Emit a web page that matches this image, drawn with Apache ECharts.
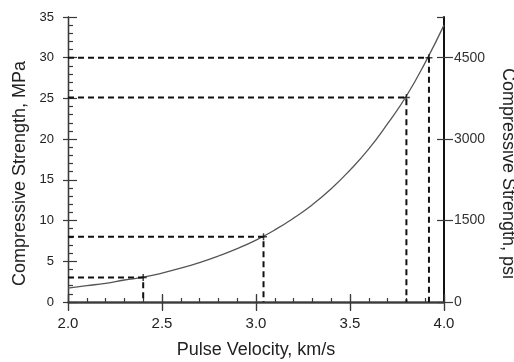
<!DOCTYPE html>
<html>
<head>
<meta charset="utf-8">
<script src="https://cdn.jsdelivr.net/npm/echarts@6/dist/echarts.min.js"></script>
<style>
  html, body { margin: 0; padding: 0; background: #fff; }
  #chart { width: 514px; height: 362px; }
</style>
</head>
<body>
<div id="chart"></div>
<script>
// curve
const velocity = [2.0, 2.1, 2.2, 2.3, 2.4, 2.5, 2.6, 2.7, 2.8, 2.9, 3.0, 3.1, 3.2, 3.3, 3.4, 3.5, 3.6, 3.7, 3.8, 3.9, 4.0]
const strengthMPa = [1.7, 2.0, 2.3, 2.7, 3.05, 3.55, 4.15, 4.85, 5.65, 6.55, 7.6, 8.85, 10.3, 11.95, 13.9, 16.2, 18.8, 21.9, 25.3, 29.4, 34.0]

// dashed read-off points
const pointVelocity = [2.4, 3.04, 3.8, 3.92]
const pointStrength = [3.0, 8.0, 25.1, 30.0]

const xTitle = 'Pulse Velocity, km/s'
const yTitleLeft = 'Compressive Strength, MPa'
const yTitleRight = 'Compressive Strength, psi'

const font = "'Liberation Sans', Arial, sans-serif"
const axisColor = '#3a3a3a'
const textColor = '#222'

const chart = echarts.init(document.getElementById('chart'), null, { renderer: 'canvas' })

function xAxisDef(position, opts) {
  return Object.assign({
    type: 'value', position: position, min: 2, max: 4, interval: 0.5,
    axisLine: { lineStyle: { color: axisColor, width: 1.3 } },
    axisTick: { show: false },
    axisLabel: { show: false },
    splitLine: { show: false }
  }, opts)
}

function yAxisDef(position, opts) {
  return Object.assign({
    type: 'value', position: position, min: 0, max: 35, interval: 5,
    axisLine: { lineStyle: { color: axisColor, width: 1.3 } },
    axisTick: { show: false },
    axisLabel: { show: false },
    splitLine: { show: false }
  }, opts)
}

const tickStyle = { color: axisColor, width: 1.2 }

const xAxes = [
  // bottom, labels + outward ticks
  xAxisDef('bottom', {
    axisTick: { show: true, inside: false, length: 9, lineStyle: tickStyle },
    axisLabel: {
      show: true, margin: 14, color: textColor, fontSize: 15, fontFamily: font,
      formatter: v => v.toFixed(1)
    },
    name: xTitle, nameLocation: 'middle', nameGap: 39,
    nameTextStyle: { color: textColor, fontSize: 18, fontFamily: font }
  }),
  // bottom, inward ticks + minor ticks
  xAxisDef('bottom', {
    axisTick: { show: true, inside: true, length: 7, lineStyle: tickStyle },
    minorTick: { show: true, splitNumber: 5, length: 4, lineStyle: tickStyle }
  }),
  // top, outward ticks
  xAxisDef('top', {
    axisTick: { show: true, inside: false, length: 8, lineStyle: tickStyle }
  }),
  // top, inward ticks
  xAxisDef('top', {
    axisTick: { show: true, inside: true, length: 8, lineStyle: tickStyle }
  })
]

const yAxes = [
  // left, labels + outward ticks
  yAxisDef('left', {
    axisTick: { show: true, inside: false, length: 5, lineStyle: tickStyle },
    axisLabel: { show: true, margin: 14, color: textColor, fontSize: 13, fontFamily: font },
    name: yTitleLeft, nameLocation: 'middle', nameGap: 30,
    nameTextStyle: { color: textColor, fontSize: 18, fontFamily: font, padding: [0, 28, 0, 0] }
  }),
  // left, inward ticks + minor ticks
  yAxisDef('left', {
    axisTick: { show: true, inside: true, length: 9, lineStyle: tickStyle },
    minorTick: { show: true, splitNumber: 5, length: 5, lineStyle: tickStyle }
  }),
  // right, psi scale
  {
    type: 'value', position: 'right', min: 0, max: 5250, interval: 1500,
    axisLine: { lineStyle: { color: '#111', width: 2 } },
    axisTick: { show: true, inside: false, length: 9, lineStyle: tickStyle },
    axisLabel: {
      show: true, margin: 10, color: '#333', fontSize: 14, fontFamily: font,
      showMaxLabel: false,
      formatter: v => (v === 5250 ? '' : String(v))
    },
    splitLine: { show: false },
    name: yTitleRight, nameLocation: 'middle', nameGap: 55, nameRotate: -90,
    nameTextStyle: { color: textColor, fontSize: 18, fontFamily: font, padding: [0, 0, 0, 28] }
  },
  // right, inward ticks
  {
    type: 'value', position: 'right', min: 0, max: 5250, interval: 1500,
    axisLine: { show: false },
    axisTick: { show: true, inside: true, length: 7, lineStyle: tickStyle },
    axisLabel: { show: false },
    splitLine: { show: false }
  }
]

const crossSymbol = 'path://M0,5L10,5M5,0L5,10'

const dashedSeries = pointVelocity.map((v, i) => ({
  type: 'line',
  xAxisIndex: 0,
  yAxisIndex: 0,
  data: [[2.0, pointStrength[i]], [v, pointStrength[i]], [v, 0]],
  symbol: 'none',
  lineStyle: { color: '#111', width: 2, type: [6, 4] },
  silent: true,
  z: 3
}))

const pointSeries = {
  type: 'scatter',
  xAxisIndex: 0,
  yAxisIndex: 0,
  data: pointVelocity.map((v, i) => [v, pointStrength[i]]),
  symbol: crossSymbol,
  symbolSize: 7,
  itemStyle: { color: 'none', borderColor: '#111', borderWidth: 1.5 },
  silent: true,
  z: 4
}

const option = {
  animation: false,
  backgroundColor: '#fff',
  grid: { left: 68, right: 70, top: 17, bottom: 60, containLabel: false, outerBoundsMode: 'none' },
  xAxis: xAxes,
  yAxis: yAxes,
  series: [
    {
      type: 'line',
      xAxisIndex: 0,
      yAxisIndex: 0,
      data: velocity.map((v, i) => [v, strengthMPa[i]]),
      smooth: true,
      symbol: 'none',
      lineStyle: { color: '#555', width: 1.3 },
      silent: true,
      z: 2
    },
    ...dashedSeries,
    pointSeries
  ]
}

chart.setOption(option)
</script>
</body>
</html>
